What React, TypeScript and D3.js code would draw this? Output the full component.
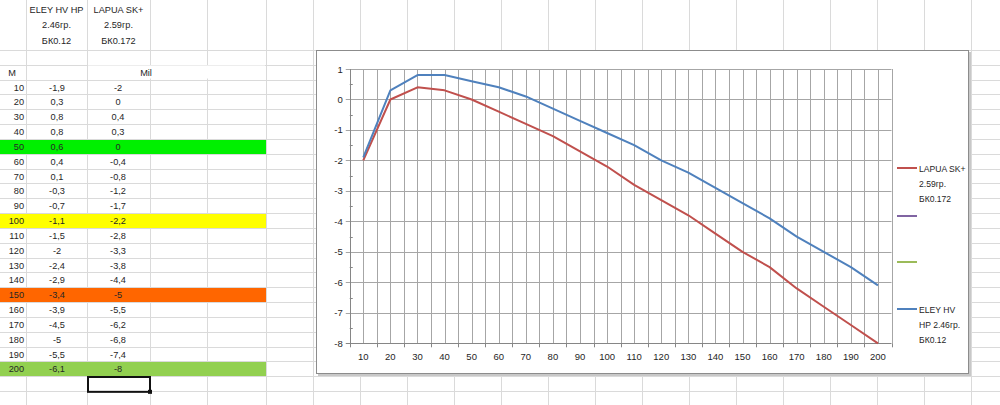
import React, {useEffect, useRef} from 'react'
import * as d3 from 'd3'

// distances (m) and drops (mil) read from the sheet
const distances = [10, 20, 30, 40, 50, 60, 70, 80, 90, 100, 110, 120, 130, 140, 150, 160, 170, 180, 190, 200]
const eley = [-1.9, 0.3, 0.8, 0.8, 0.6, 0.4, 0.1, -0.3, -0.7, -1.1, -1.5, -2, -2.4, -2.9, -3.4, -3.9, -4.5, -5, -5.5, -6.1]
const lapua = [-2, 0, 0.4, 0.3, 0, -0.4, -0.8, -1.2, -1.7, -2.2, -2.8, -3.3, -3.8, -4.4, -5, -5.5, -6.2, -6.8, -7.4, -8]
const yTicks = [1, 0, -1, -2, -3, -4, -5, -6, -7, -8]
const eleyHeader = ['ELEY HV HP', '2.46гр.', 'БК0.12']
const lapuaHeader = ['LAPUA SK+', '2.59гр.', 'БК0.172']
const eleyLegend = ['ELEY HV', 'HP 2.46гр.', 'БК0.12']
const lapuaLegend = ['LAPUA SK+', '2.59гр.', 'БК0.172']
const highlights: {[k: number]: string} = {50: '#00f000', 100: '#ffff00', 150: '#ff6600', 200: '#92d050'}

const W = 1000, H = 405
const font = '"Liberation Sans", Arial, sans-serif'
const colEdges = [0, 26, 87, 150, 207, 266]
const rowTop0 = 79.5
const rowH = 14.84

const fmt = (v: number) => String(v).replace('.', ',')

function App() {
  const ref = useRef<SVGSVGElement>(null)

  useEffect(() => {
    var svg = d3.select(ref.current)
    svg.selectAll('*').remove()

    svg.append('rect').attr('width', W).attr('height', H).attr('fill', '#fff')

    // sheet grid
    var grid = svg.append('g').attr('stroke', '#dadada').attr('stroke-width', 1)
    var cols = colEdges.slice()
    for (var x = 266 + 47; x < W; x += 47) cols.push(x)
    cols.forEach(x => {
      if (x === 0) return
      grid.append('line').attr('x1', x + 0.5).attr('x2', x + 0.5).attr('y1', 0).attr('y2', H)
    })
    var rows = [50, 64.5]
    for (var y = rowTop0; y < H; y += rowH) rows.push(y)
    rows.forEach(y => {
      grid.append('line').attr('x1', 0).attr('x2', W).attr('y1', Math.round(y) + 0.5).attr('y2', Math.round(y) + 0.5)
    })
    // merged "Mil" cell: hide inner lines
    svg.append('rect').attr('x', 88).attr('y', 65.5).attr('width', 177).attr('height', 13).attr('fill', '#fff')

    // highlighted rows
    distances.forEach((d, i) => {
      if (highlights[d]) {
        svg.append('rect')
          .attr('x', 0).attr('y', Math.round(rowTop0 + i * rowH) + 1)
          .attr('width', 266).attr('height', 14)
          .attr('fill', highlights[d])
      }
    })

    var txt = svg.append('g').attr('font-family', font).attr('font-size', 9.2).attr('fill', '#262626')
    eleyHeader.forEach((t, i) => txt.append('text').attr('x', 56.5).attr('y', 13 + i * 15.3).attr('text-anchor', 'middle').text(t))
    lapuaHeader.forEach((t, i) => txt.append('text').attr('x', 118.5).attr('y', 13 + i * 15.3).attr('text-anchor', 'middle').text(t))
    txt.append('text').attr('x', 12).attr('y', 75.5).attr('text-anchor', 'middle').text('M')
    txt.append('text').attr('x', 146).attr('y', 75.5).attr('text-anchor', 'middle').text('Mil')
    distances.forEach((d, i) => {
      var by = rowTop0 + i * rowH + 11
      txt.append('text').attr('x', 24).attr('y', by).attr('text-anchor', 'end').text(d)
      txt.append('text').attr('x', 57).attr('y', by).attr('text-anchor', 'middle').text(fmt(eley[i]))
      txt.append('text').attr('x', 118).attr('y', by).attr('text-anchor', 'middle').text(fmt(lapua[i]))
    })

    // active cell
    var selY = Math.round(rowTop0 + 20 * rowH) + 1
    svg.append('rect').attr('x', 88).attr('y', selY).attr('width', 62).attr('height', rowH)
      .attr('fill', 'none').attr('stroke', '#111').attr('stroke-width', 2)
    svg.append('rect').attr('x', 148).attr('y', selY + rowH - 2).attr('width', 4).attr('height', 4).attr('fill', '#111')

    // chart box
    svg.append('rect').attr('x', 318).attr('y', 52).attr('width', 653).attr('height', 324).attr('fill', '#c8c8c8')
    svg.append('rect').attr('x', 316.5).attr('y', 50.5).attr('width', 652).attr('height', 323)
      .attr('fill', '#fff').attr('stroke', '#8c8c8c').attr('stroke-width', 1)

    var left = 349.75, right = 891.5, top = 69, bottom = 343.3
    var x = d3.scaleBand<number>().domain(distances).range([left, right])
    var yS = d3.scaleLinear().domain([-8, 1]).range([bottom, top])
    var cx = (d: number) => (x(d) as number) + x.bandwidth() / 2

    var g = svg.append('g')
    // vertical gridlines at category edges and centres
    var vx: number[] = []
    distances.forEach(d => { vx.push(x(d) as number); vx.push(cx(d)) })
    vx.push(right)
    vx.slice(1).forEach(v => {
      g.append('line').attr('x1', Math.round(v) + 0.5).attr('x2', Math.round(v) + 0.5)
        .attr('y1', top).attr('y2', bottom).attr('stroke', '#a6a6a6')
    })
    yTicks.forEach(t => {
      g.append('line').attr('x1', left - 4).attr('x2', right).attr('y1', Math.round(yS(t)) + 0.5).attr('y2', Math.round(yS(t)) + 0.5)
        .attr('stroke', t === -8 ? '#868686' : '#a6a6a6')
    })
    // y minor ticks
    for (var m = -7.5; m < 1; m += 1) {
      g.append('line').attr('x1', left).attr('x2', left + 3).attr('y1', Math.round(yS(m)) + 0.5).attr('y2', Math.round(yS(m)) + 0.5).attr('stroke', '#868686')
    }
    // axes
    g.append('line').attr('x1', Math.round(left) + 0.5).attr('x2', Math.round(left) + 0.5).attr('y1', top).attr('y2', bottom).attr('stroke', '#868686')
    ;(x.domain().map(d => x(d) as number).concat([right])).forEach(v => {
      g.append('line').attr('x1', Math.round(v) + 0.5).attr('x2', Math.round(v) + 0.5).attr('y1', bottom).attr('y2', bottom + 4).attr('stroke', '#868686')
    })

    var lab = svg.append('g').attr('font-family', font).attr('font-size', 9.5).attr('fill', '#262626')
    yTicks.forEach(t => lab.append('text').attr('x', left - 7).attr('y', yS(t) + 3.5).attr('text-anchor', 'end').text(t))
    distances.forEach(d => lab.append('text').attr('x', cx(d)).attr('y', bottom + 17).attr('text-anchor', 'middle').text(d))

    var line = d3.line<number>().x((v, i) => cx(distances[i])).y(v => yS(v))
    svg.append('path').attr('d', line(lapua)).attr('fill', 'none').attr('stroke', '#c0504d').attr('stroke-width', 2).attr('stroke-linejoin', 'round')
    svg.append('path').attr('d', line(eley)).attr('fill', 'none').attr('stroke', '#4f81bd').attr('stroke-width', 2).attr('stroke-linejoin', 'round')

    // legend
    var leg = svg.append('g').attr('font-family', font).attr('font-size', 8.6).attr('fill', '#262626')
    var item = (y0: number, color: string, lines: string[]) => {
      leg.append('line').attr('x1', 897).attr('x2', 917).attr('y1', y0).attr('y2', y0).attr('stroke', color).attr('stroke-width', 2)
      lines.forEach((t, i) => leg.append('text').attr('x', 919).attr('y', y0 + 3.5 + i * 15.2).text(t))
    }
    item(168, '#c0504d', lapuaLegend)
    item(216, '#8064a2', [])
    item(262, '#9bbb59', [])
    item(309, '#4f81bd', eleyLegend)
  }, [])

  return (
    <div style={{position: 'fixed', left: 0, top: 0}}>
      <svg ref={ref} width={W} height={H} style={{display: 'block'}} />
    </div>
  )
}

export default App
